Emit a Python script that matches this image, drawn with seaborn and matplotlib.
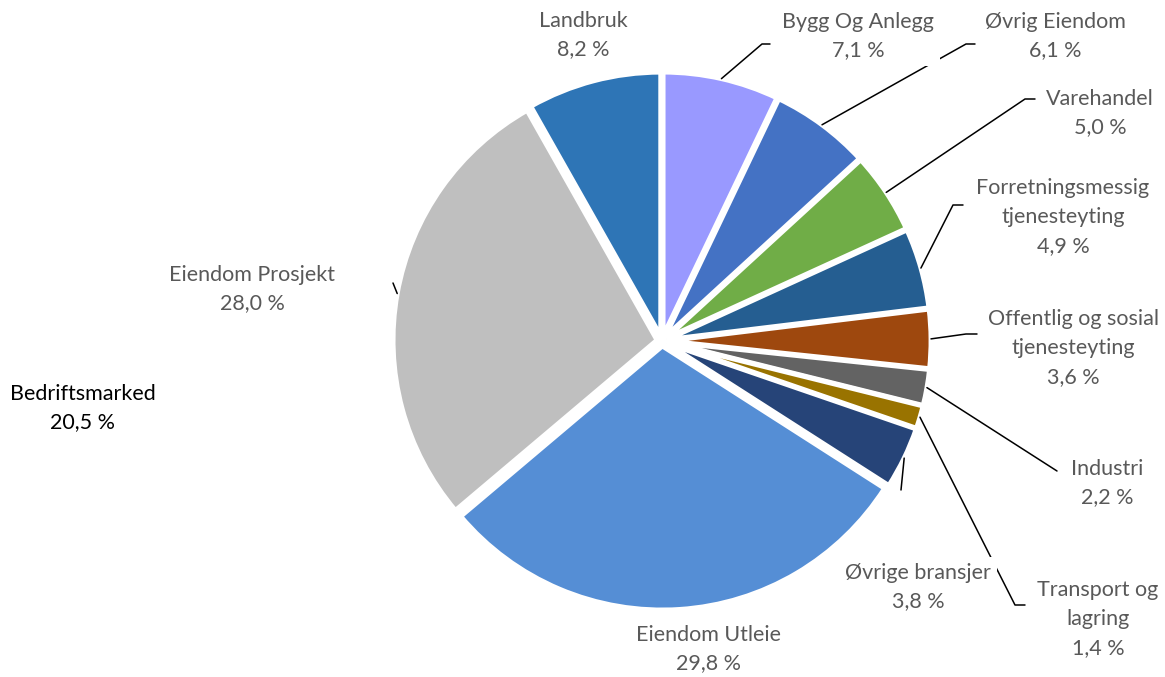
import numpy as np
import matplotlib.pyplot as plt
import seaborn as sns

# data (clockwise from 12 o'clock)
categories = [
    "Bygg Og Anlegg", "Øvrig Eiendom", "Varehandel", "Forretningsmessig\ntjenesteyting",
    "Offentlig og sosial\ntjenesteyting", "Industri", "Transport og\nlagring", "Øvrige bransjer",
    "Eiendom Utleie", "Eiendom Prosjekt", "Landbruk",
]
shares = [7.1, 6.1, 5.0, 4.9, 3.6, 2.2, 1.4, 3.8, 29.8, 28.0, 8.2]
total_name = "Bedriftsmarked"
total_share = 20.5

colors = [
    "#9999FF", "#4472C4", "#70AD47", "#255E91", "#9E480E", "#636363",
    "#997300", "#264478", "#558ED5", "#BFBFBF", "#2E75B6",
]

# layout in pixels (origin top-left)
W, H = 1165, 677
center_px = (662, 341)
radius_px = 264
label_pos = [
    (858, 36), (1055, 36), (1100, 113), (1063, 217), (1073, 348), (1107, 483),
    (1098, 619), (918, 587), (708, 649), (252, 289), (583, 35),
]
# leader line bend points, None = no leader
leaders = [
    [(762, 44), (770, 44)], [(966, 44), (975, 44)], [(1025, 99), (1035, 99)],
    [(953, 205), (963, 205)], [(966, 334), (977, 334)], [(1057, 471)],
    [(1015, 605), (1025, 605)], [(901, 490)], None, [(393, 283)], None,
]


def fmt(v):
    return f"{v:.1f}".replace(".", ",") + " %"


sns.set_theme(style="white")
plt.rcParams["font.family"] = ["Lato", "DejaVu Sans"]

fig = plt.figure(figsize=(W / 100, H / 100), dpi=100)
ax = fig.add_axes([0, 0, 1, 1])

wedges, _ = ax.pie(
    shares,
    colors=colors,
    startangle=90,
    counterclock=False,
    center=(center_px[0], H - center_px[1]),
    radius=radius_px,
    explode=[5] * len(shares),
    wedgeprops=dict(edgecolor="white", linewidth=3.5),
    frame=True,
)
ax.set_xlim(0, W)
ax.set_ylim(0, H)
ax.axis("off")

# leader lines from the slice edge to the label
for w, pts in zip(wedges, leaders):
    if pts is None:
        continue
    mid = np.deg2rad((w.theta1 + w.theta2) / 2)
    x0 = w.center[0] + w.r * np.cos(mid)
    y0 = w.center[1] + w.r * np.sin(mid)
    xs = [x0] + [p[0] for p in pts]
    ys = [y0] + [H - p[1] for p in pts]
    ax.plot(xs, ys, color="black", linewidth=1.1, zorder=3)

for name, v, (px, py) in zip(categories, shares, label_pos):
    ax.text(px, H - py, f"{name}\n{fmt(v)}", ha="center", va="center", fontsize=15.5,
            color="#595959", linespacing=1.55, zorder=4,
            bbox=dict(facecolor="white", edgecolor="none", pad=4))

ax.text(83, H - 408, f"{total_name}\n{fmt(total_share)}", ha="center", va="center",
        fontsize=15.5, color="black", linespacing=1.55)

fig.savefig("out.png", dpi=100)
